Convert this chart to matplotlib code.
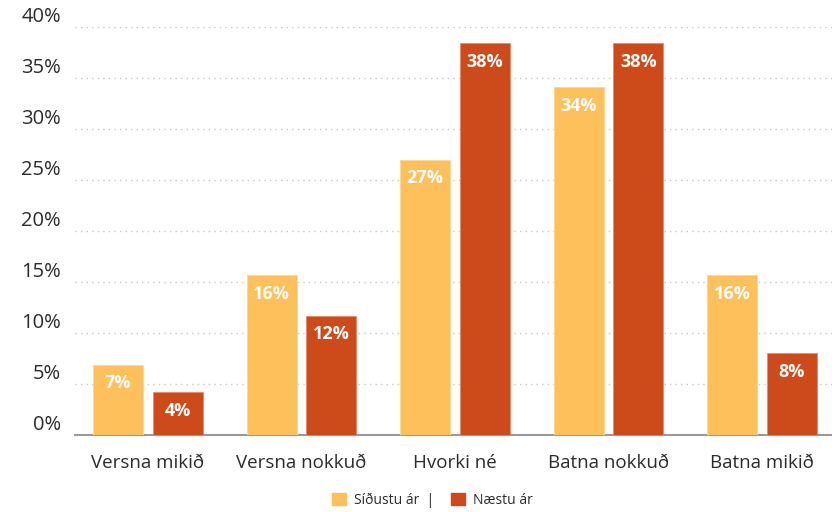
import matplotlib
matplotlib.use('Agg')
from matplotlib import pyplot as plt
from matplotlib.patches import Patch
import numpy as np

plt.rcParams['font.family'] = ['Open Sans', 'DejaVu Sans']

categories = ['Versna mikið', 'Versna nokkuð', 'Hvorki né', 'Batna nokkuð', 'Batna mikið']
sidustu_ar = [6.9, 15.7, 27.0, 34.1, 15.7]
naestu_ar = [4.2, 11.7, 38.4, 38.4, 8.0]
sidustu_labels = ['7%', '16%', '27%', '34%', '16%']
naestu_labels = ['4%', '12%', '38%', '38%', '8%']
yticks = [0, 5, 10, 15, 20, 25, 30, 35, 40]

orange = '#FDC05B'
red = '#CD4A1A'
text_color = '#2b2b2b'

fig = plt.figure(figsize=(8.32, 5.12), dpi=100)
ax = fig.add_axes([75 / 832, 1 - 435 / 512, 757 / 832, 408 / 512])

x = np.arange(len(categories))
w = 0.326
b1 = ax.bar(x - 0.195, sidustu_ar, w, color=orange, edgecolor='#FFD890', linewidth=0.6, zorder=3)
b2 = ax.bar(x + 0.195, naestu_ar, w, color=red, edgecolor='#E88A66', linewidth=0.6, zorder=3)

for bars, labels in ((b1, sidustu_labels), (b2, naestu_labels)):
    for bar, lab in zip(bars, labels):
        ax.annotate(lab, (bar.get_x() + bar.get_width() / 2, bar.get_height()),
                    xytext=(0, -13.5), textcoords='offset points', ha='center', va='center',
                    color='white', fontsize=13, fontweight='bold', zorder=4)

ax.set_xlim(-0.4756, 4.456)
ax.set_ylim(0, 40)
ax.set_yticks(yticks)
ax.set_yticklabels([f'{t}%' for t in yticks])
ax.set_xticks(x)
ax.set_xticklabels(categories)
ax.tick_params(axis='both', length=0, labelsize=13.5, colors=text_color)
ax.tick_params(axis='x', pad=14)
ax.tick_params(axis='y', labelsize=14.5, pad=10)
for lab in ax.get_yticklabels():
    lab.set_verticalalignment('bottom')
    lab.set_horizontalalignment('right')

ax.grid(axis='y', color='#c8c8c8', linestyle=(0, (1, 3)), linewidth=1, zorder=0)
for s in ('top', 'right', 'left'):
    ax.spines[s].set_visible(False)
ax.spines['bottom'].set_color('#9a9a9a')
ax.spines['bottom'].set_linewidth(1.5)

handles = [Patch(color=orange), Patch(color=red)]
fig.legend(handles, ['Síðustu ár  |', 'Næstu ár'], loc='center', bbox_to_anchor=(0.52, 1 - 500 / 512),
           ncol=2, frameon=False, fontsize=10, handlelength=1.0, handleheight=1.0,
           handletextpad=0.6, columnspacing=1.2, labelcolor=text_color)

fig.savefig('out.png', dpi=100)
